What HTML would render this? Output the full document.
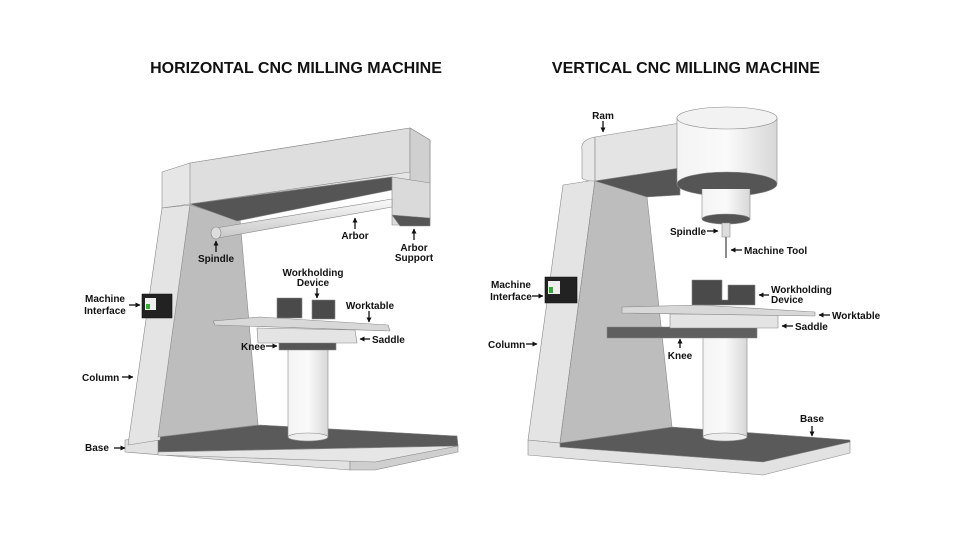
<!DOCTYPE html>
<html><head><meta charset="utf-8"><style>
html,body{margin:0;padding:0;background:#fff}
svg{display:block}
text{font-family:"Liberation Sans",Arial,sans-serif;font-weight:bold;fill:#111}
.l{font-size:10px}
</style></head><body>
<svg width="960" height="540" viewBox="0 0 960 540" xmlns="http://www.w3.org/2000/svg">
<defs>
<linearGradient id="cyl" x1="0" x2="1"><stop offset="0" stop-color="#f4f4f4"/><stop offset="0.5" stop-color="#fafafa"/><stop offset="1" stop-color="#d8d8d8"/></linearGradient>
<linearGradient id="arb" x1="0" y1="0" x2="0" y2="1"><stop offset="0" stop-color="#fafafa"/><stop offset="1" stop-color="#c8c8c8"/></linearGradient>
<marker id="a" viewBox="0 0 10 10" refX="9" refY="5" markerWidth="4" markerHeight="4" orient="auto"><path d="M0,0L10,5L0,10z" fill="#111"/></marker>
</defs>
<g stroke="#888" stroke-width="0.6" stroke-linejoin="round">
<text x="296" y="73" text-anchor="middle" font-size="16" stroke="none">HORIZONTAL CNC MILLING MACHINE</text>
<text x="686" y="73" text-anchor="middle" font-size="16" stroke="none">VERTICAL CNC MILLING MACHINE</text>

<!-- HORIZONTAL -->
<!-- base -->
<polygon points="125,440 158,437 457,436 458,446 350,460 350,470 125,452" fill="#e2e2e2"/>
<polygon points="350,460 458,446 458,452 375,470 350,470" fill="#cfcfcf"/>
<polygon points="158,437 260,425 457,436 458,446 158,452" fill="#5a5a5a"/>
<polygon points="158,452 458,446 375,462 158,455" fill="#e6e6e6"/>
<!-- column -->
<polygon points="162,208 190,205 160,440 128,445" fill="#e4e4e4"/>
<polygon points="190,205 240,220 258,425 158,437" fill="#bdbdbd"/>
<!-- beam -->
<polygon points="162,172 190,163 410,128 430,140 430,183 392,177 190,204 162,208" fill="#e6e6e6"/>
<polygon points="190,163 410,128 410,172 190,204" fill="#dedede"/>
<polygon points="410,128 430,140 430,220 410,215" fill="#d0d0d0"/>
<polygon points="190,204 392,177 392,190 237,221" fill="#555"/>
<polygon points="392,177 430,183 430,225 392,225" fill="#dadada"/>
<polygon points="392,215 430,218 430,226 400,226" fill="#555"/>
<!-- arbor -->
<polygon points="216,228 392,199 392,207 218,238" fill="url(#arb)"/>
<ellipse cx="216" cy="233" rx="5" ry="6" fill="#ddd"/>
<!-- knee cyl -->
<rect x="288" y="345" width="40" height="92" fill="url(#cyl)"/>
<ellipse cx="308" cy="437" rx="20" ry="4" fill="#eee"/>
<polygon points="279,341 336,341 336,350 279,350" fill="#555"/>
<polygon points="257,328 355,330 357,343 258,343" fill="#e4e4e4"/>
<polygon points="213,321 260,317 388,325 390,331 215,325" fill="#d8d8d8"/>
<rect x="277" y="298" width="25" height="20" fill="#4a4a4a"/>
<rect x="312" y="300" width="23" height="19" fill="#4a4a4a"/>
<!-- screen -->
<rect x="142" y="294" width="30" height="24" fill="#222" stroke="#111"/>
<rect x="145" y="298" width="11" height="12" fill="#eee" stroke="none"/>
<rect x="146" y="304" width="4" height="5" fill="#3a3" stroke="none"/>

<!-- VERTICAL -->
<polygon points="528,440 560,443 850,441 850,453 763,475 528,455" fill="#e2e2e2"/>
<polygon points="560,443 672,427 850,440 850,442 763,462 560,447" fill="#5a5a5a"/>
<polygon points="563,185 595,180 560,443 528,440" fill="#e4e4e4"/>
<polygon points="595,180 647,197 672,427 560,443" fill="#bdbdbd"/>
<!-- ram -->
<path d="M595,137 Q580,140 582,150 L582,178 Q584,181 595,181 Z" fill="#e8e8e8"/>
<polygon points="595,137 680,123 680,168 595,181" fill="#e4e4e4"/>
<polygon points="595,181 680,168 680,195 647,197" fill="#555"/>
<!-- big cyl -->
<rect x="677" y="118" width="100" height="66" fill="url(#cyl)" stroke="none"/>
<path d="M677,118 L677,184 M777,118 L777,184" />
<ellipse cx="727" cy="184" rx="50" ry="12" fill="#555"/>
<ellipse cx="727" cy="118" rx="50" ry="11" fill="#f2f2f2"/>
<rect x="702" y="189" width="48" height="30" fill="url(#cyl)" stroke="none"/>
<path d="M702,189 L702,219 M750,189 L750,219"/>
<ellipse cx="726" cy="219" rx="24" ry="5" fill="#555"/>
<rect x="722" y="223" width="8" height="14" fill="#ddd"/>
<line x1="726" y1="237" x2="726" y2="258" stroke="#666" stroke-width="1.5"/>
<!-- knee -->
<rect x="703" y="335" width="44" height="102" fill="url(#cyl)"/>
<ellipse cx="725" cy="437" rx="22" ry="4" fill="#eee"/>
<polygon points="607,327 757,327 757,338 607,338" fill="#5f5f5f"/>
<polygon points="670,314 778,314 778,328 670,328" fill="#e4e4e4"/>
<polygon points="622,307 700,305 815,312 815,316 622,313" fill="#d8d8d8"/>
<path d="M692,280 L722,280 L722,300 L728,300 L728,285 L755,285 L755,305 L692,305 Z" fill="#4a4a4a"/>
<rect x="545" y="277" width="32" height="26" fill="#222" stroke="#111"/>
<rect x="548" y="281" width="12" height="13" fill="#eee" stroke="none"/>
<rect x="549" y="287" width="4" height="6" fill="#3a3" stroke="none"/>
</g>

<g stroke="#111" stroke-width="1.3" marker-end="url(#a)">
<line x1="216" y1="252" x2="216" y2="241"/>
<line x1="355" y1="229" x2="355" y2="218"/>
<line x1="414" y1="240" x2="414" y2="229"/>
<line x1="317" y1="288" x2="317" y2="298"/>
<line x1="369" y1="311" x2="369" y2="322"/>
<line x1="370" y1="339" x2="360" y2="339"/>
<line x1="266" y1="346" x2="277" y2="346"/>
<line x1="129" y1="305" x2="140" y2="305"/>
<line x1="122" y1="377" x2="133" y2="377"/>
<line x1="114" y1="448" x2="125" y2="448"/>
<line x1="603" y1="121" x2="603" y2="132"/>
<line x1="707" y1="231" x2="718" y2="231"/>
<line x1="742" y1="250" x2="731" y2="250"/>
<line x1="769" y1="295" x2="759" y2="295"/>
<line x1="830" y1="315" x2="819" y2="315"/>
<line x1="793" y1="326" x2="782" y2="326"/>
<line x1="680" y1="348" x2="680" y2="339"/>
<line x1="532" y1="296" x2="543" y2="296"/>
<line x1="526" y1="344" x2="537" y2="344"/>
<line x1="812" y1="426" x2="812" y2="436"/>
</g>

<g class="l">
<text x="216" y="262" text-anchor="middle">Spindle</text>
<text x="355" y="239" text-anchor="middle">Arbor</text>
<text x="414" y="251" text-anchor="middle">Arbor</text>
<text x="414" y="261" text-anchor="middle">Support</text>
<text x="313" y="276" text-anchor="middle">Workholding</text>
<text x="313" y="286" text-anchor="middle">Device</text>
<text x="370" y="309" text-anchor="middle">Worktable</text>
<text x="372" y="343">Saddle</text>
<text x="241" y="350">Knee</text>
<text x="105" y="302" text-anchor="middle">Machine</text>
<text x="105" y="314" text-anchor="middle">Interface</text>
<text x="82" y="381">Column</text>
<text x="85" y="451">Base</text>
<text x="603" y="119" text-anchor="middle">Ram</text>
<text x="670" y="235">Spindle</text>
<text x="744" y="254">Machine Tool</text>
<text x="771" y="293">Workholding</text>
<text x="771" y="303">Device</text>
<text x="832" y="319">Worktable</text>
<text x="795" y="330">Saddle</text>
<text x="680" y="359" text-anchor="middle">Knee</text>
<text x="511" y="288" text-anchor="middle">Machine</text>
<text x="511" y="300" text-anchor="middle">Interface</text>
<text x="488" y="348">Column</text>
<text x="812" y="422" text-anchor="middle">Base</text>
</g>
</svg>
</body></html>
